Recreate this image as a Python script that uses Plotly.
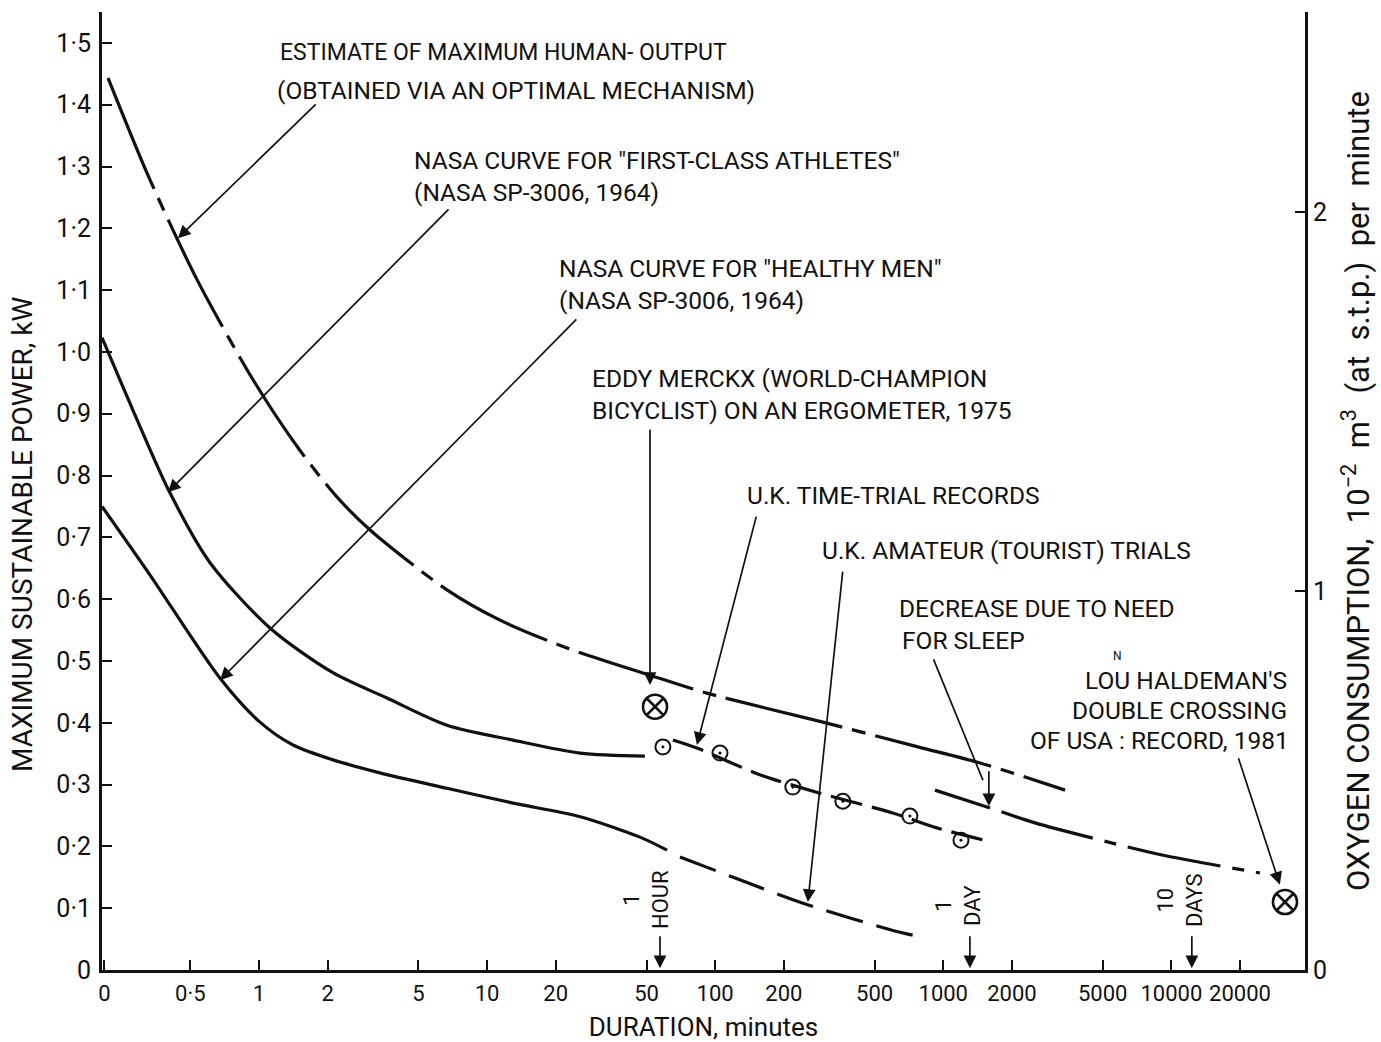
import numpy as np
import plotly.graph_objects as go

# ---------------- data (minutes, kW) ----------------
x_tick_vals = [0.21, 0.5, 1, 2, 5, 10, 20, 50, 100, 200, 500, 1000, 2000, 5000, 10000, 20000]
x_tick_text = ["0", "0·5", "1", "2", "5", "10", "20", "50", "100", "200", "500", "1000", "2000", "5000", "10000", "20000"]
y_tick_vals = [0, 0.1, 0.2, 0.3, 0.4, 0.5, 0.6, 0.7, 0.8, 0.9, 1.0, 1.1, 1.2, 1.3, 1.4, 1.5]
y_tick_text = ["0", "0·1", "0·2", "0·3", "0·4", "0·5", "0·6", "0·7", "0·8", "0·9", "1·0", "1·1", "1·2", "1·3", "1·4", "1·5"]
y2_tick_vals = [0, 1, 2]

# estimate of maximum human output (dash-dot)
max_min = [0.218, 0.326, 0.535, 0.942, 1.51, 2.20, 3.07, 6.67, 11.4, 22.4, 51.8, 92.0, 297, 775, 1449, 3420]
max_kw = [1.443, 1.286, 1.117, 0.955, 0.841, 0.765, 0.712, 0.615, 0.566, 0.521, 0.477, 0.448, 0.401, 0.361, 0.335, 0.291]
# NASA first-class athletes
fca_min = [0.205, 0.280, 0.407, 0.610, 1.12, 2.11, 3.64, 6.67, 13.0, 25.6, 49.2]
fca_kw = [1.023, 0.906, 0.772, 0.659, 0.553, 0.481, 0.440, 0.396, 0.372, 0.351, 0.346]
# NASA healthy men (solid part), then dashed amateur trials
hm_min = [0.205, 0.333, 0.675, 1.01, 1.41, 2.11, 3.39, 6.67, 13.0, 25.6, 46.8, 61.5]
hm_kw = [0.750, 0.639, 0.472, 0.401, 0.364, 0.340, 0.319, 0.294, 0.270, 0.248, 0.215, 0.194]
am_min = [70.1, 120, 243, 646, 815]
am_kw = [0.183, 0.150, 0.108, 0.061, 0.053]
# UK time-trial records
tt_min = [65.3, 83.2, 157, 288, 601, 938, 1634]
tt_kw = [0.372, 0.359, 0.316, 0.286, 0.254, 0.230, 0.207]
tt_pts_min = [59.0, 105, 219, 363, 714, 1196]
tt_pts_kw = [0.361, 0.351, 0.296, 0.273, 0.249, 0.210]
# decrease due to sleep
sl_min = [920, 1603]
sl_kw = [0.291, 0.262]
sl2_min = [1800, 2525, 6790, 9670, 24450]
sl2_kw = [0.256, 0.238, 0.197, 0.184, 0.157]
# single records
merckx = (54.5, 0.426)
haldeman = (31500, 0.110)
# time markers (minutes)
hour_min, day_min, tendays_min = 57.3, 1309, 12300

KW_PER_O2 = 0.6133          # kW per 10^-2 m^3/min
X_RANGE = [np.log10(0.205), np.log10(38550)]
Y_MAX = 1.550

FONT = "Roboto, Liberation Sans, sans-serif"
INK = "#111111"

fig = go.Figure()


def line(xs, ys, dash="solid", width=3.2):
    fig.add_trace(go.Scatter(x=xs, y=ys, mode="lines",
                             line=dict(color=INK, width=width, dash=dash, shape="spline", smoothing=0.8),
                             hoverinfo="skip", showlegend=False))


line(max_min, max_kw, dash="120px,10px,14px,10px")
line(fca_min, fca_kw)
line(hm_min, hm_kw)
line(am_min, am_kw, dash="38px,14px")
line(tt_min, tt_kw, dash="32px,10px")
line(sl_min, sl_kw)
line(sl2_min, sl2_kw, dash="95px,12px,12px,12px")

fig.add_trace(go.Scatter(x=tt_pts_min, y=tt_pts_kw, mode="markers",
                         marker=dict(symbol="circle-open-dot", size=15, color=INK, line=dict(width=2, color=INK)),
                         hoverinfo="skip", showlegend=False))
fig.add_trace(go.Scatter(x=[merckx[0], haldeman[0]], y=[merckx[1], haldeman[1]], mode="markers",
                         marker=dict(symbol="circle-x-open", size=24, color=INK, line=dict(width=2.6, color=INK)),
                         hoverinfo="skip", showlegend=False))
# invisible trace on the right axis so it is drawn
fig.add_trace(go.Scatter(x=[1], y=[None], yaxis="y2", showlegend=False, hoverinfo="skip"))

L, R, T, B = 102, 76, 12, 72
W, H = 1381, 1042
PW, PH = W - L - R, H - T - B


def px(xp):
    return (xp - L) / PW


def py(yp):
    return (H - B - yp) / PH


ann = []


def pointer(tail, tip, head=2):
    ann.append(dict(x=np.log10(tip[0]), y=tip[1], ax=np.log10(tail[0]), ay=tail[1], xref="x", yref="y",
                    axref="x", ayref="y", text="", showarrow=True, arrowhead=head, arrowsize=1.5,
                    arrowwidth=1.7, arrowcolor=INK, standoff=0, startstandoff=0))


pointer((1.80, 1.403), (0.441, 1.184))
pointer((6.88, 1.233), (0.399, 0.773))
pointer((25.0, 1.055), (0.675, 0.469))
pointer((51.8, 0.877), (51.8, 0.461))
pointer((152, 0.736), (83.2, 0.364))
pointer((363, 0.647), (255, 0.110))
pointer((901, 0.505), (1493, 0.307), head=0)
pointer((1585, 0.324), (1585, 0.265))
pointer((19600, 0.345), (29900, 0.138))
for tm in (hour_min, day_min, tendays_min):
    pointer((tm, 0.057), (tm, 0.003))


def label(text, xp, yp, anchor="left", size=24.5, angle=0):
    ann.append(dict(text=text, x=px(xp), y=py(yp), xref="paper", yref="paper", xanchor=anchor, yanchor="middle",
                    textangle=angle, showarrow=False, font=dict(family=FONT, size=size, color=INK)))


label("ESTIMATE OF MAXIMUM HUMAN- OUTPUT", 278, 52, size=23)
label("(OBTAINED VIA AN OPTIMAL MECHANISM)", 275, 90)
label("NASA CURVE FOR \"FIRST-CLASS ATHLETES\"", 412, 160)
label("(NASA SP-3006, 1964)", 412, 192)
label("NASA CURVE FOR \"HEALTHY MEN\"", 557, 268)
label("(NASA SP-3006, 1964)", 557, 300)
label("EDDY MERCKX (WORLD-CHAMPION", 590, 378)
label("BICYCLIST) ON AN ERGOMETER, 1975", 590, 410)
label("U.K. TIME-TRIAL RECORDS", 745, 496)
label("U.K. AMATEUR (TOURIST) TRIALS", 820, 550)
label("DECREASE DUE TO NEED", 897, 608)
label("FOR SLEEP", 900, 640)
label("LOU HALDEMAN'S", 1289, 680, anchor="right")
label("DOUBLE CROSSING", 1289, 710, anchor="right")
label("OF USA : RECORD, 1981", 1291, 740, anchor="right")
label("N", 1117, 656, anchor="center", size=12)
# left axis title (placed as in the reference, slightly below centre)
label("MAXIMUM SUSTAINABLE POWER, kW", 22, 535, anchor="center", size=28, angle=-90)

for txt, xp, yp in (("1<br>HOUR", 646, 900), ("1<br>DAY", 958, 905), ("10<br>DAYS", 1180, 900)):
    ann.append(dict(text=txt, x=px(xp), y=py(yp), xref="paper", yref="paper", xanchor="center", yanchor="middle",
                    textangle=-90, showarrow=False, font=dict(family=FONT, size=22, color=INK)))

axis_common = dict(showgrid=False, zeroline=False, showline=True, linecolor=INK, linewidth=3,
                   ticks="inside", ticklen=10, tickwidth=2, tickcolor=INK, automargin=False)

fig.update_layout(
    width=W, height=H, margin=dict(l=L, r=R, t=T, b=B),
    paper_bgcolor="white", plot_bgcolor="white", showlegend=False,
    annotations=ann,
    xaxis=dict(type="log", range=X_RANGE, tickvals=x_tick_vals, ticktext=x_tick_text, tickangle=0,
               ticklabelstandoff=2, tickfont=dict(family=FONT, size=22, color=INK),
               title=dict(text="DURATION, minutes", standoff=18, font=dict(family=FONT, size=26, color=INK)),
               **axis_common),
    yaxis=dict(range=[0, Y_MAX], tickvals=y_tick_vals, ticktext=y_tick_text, ticklabelstandoff=3,
               tickfont=dict(family=FONT, size=25, color=INK),
               **axis_common),
    yaxis2=dict(range=[0, Y_MAX / KW_PER_O2], tickvals=y2_tick_vals, overlaying="y", side="right", anchor="x",
                ticklabelstandoff=0, tickfont=dict(family=FONT, size=25, color=INK),
                title=dict(text="OXYGEN CONSUMPTION,&nbsp; 10<sup>−2</sup>&nbsp; m<sup>3</sup>&nbsp; (at&nbsp; s.t.p.)&nbsp; per&nbsp; minute",
                           standoff=22, font=dict(family=FONT, size=31, color=INK)),
                **axis_common),
)

fig.write_html("out.html", config={"displayModeBar": False},
               post_script="document.body.style.margin='0';document.body.style.padding='0';")
